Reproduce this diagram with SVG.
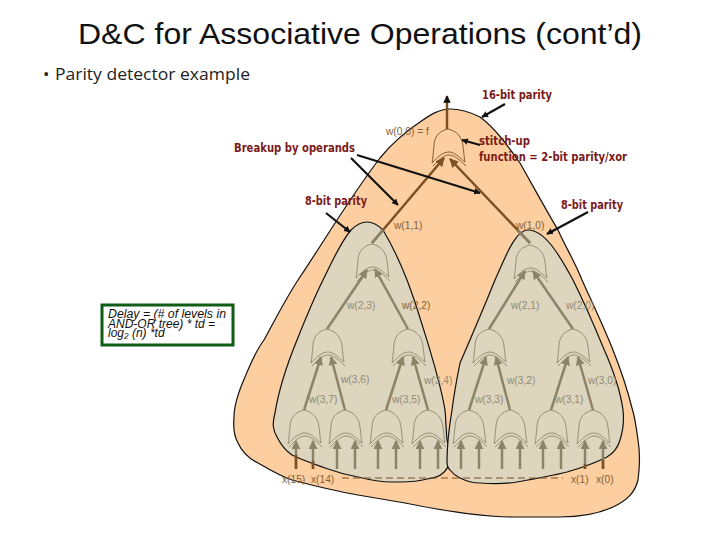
<svg xmlns="http://www.w3.org/2000/svg" width="720" height="540" viewBox="0 0 720 540">
<style>
.title{font:29px "Liberation Sans",Arial,sans-serif;fill:#111}
.sub{font:17px "Open Sans","Noto Sans",sans-serif;fill:#222}
.red{font:bold 12px "DejaVu Sans",sans-serif;fill:#7a1a1a}
.w{font:10.2px "Liberation Sans",Arial,sans-serif;fill:#8f8b76}
.b{fill:#7f6238}
.d{font:italic 12px "Liberation Sans",Arial,sans-serif;fill:#111}
.blob{stroke:#111;stroke-width:1.2}
.gate{fill:none;stroke-width:.9}
.g1{stroke:#8f8870}
.g2{stroke:#7d4f22}
.a1{stroke:#8c8469;stroke-width:2.5;fill:none;marker-end:url(#ha1)}
.a2{stroke:#7d4f22;stroke-width:2.5;fill:none;marker-end:url(#ha2)}
.k{stroke:#111;stroke-width:2.2;fill:none;marker-end:url(#hk)}
</style>
<defs>
<marker id="ha1" viewBox="0 0 10 10" refX="9" refY="5" markerWidth="3.6" markerHeight="3.6" orient="auto"><path d="M0 0L10 5L0 10Z" fill="#8c8469"/></marker>
<marker id="ha2" viewBox="0 0 10 10" refX="9" refY="5" markerWidth="3.6" markerHeight="3.6" orient="auto"><path d="M0 0L10 5L0 10Z" fill="#7d4f22"/></marker>
<marker id="hk" viewBox="0 0 10 10" refX="9" refY="5" markerWidth="3" markerHeight="3" orient="auto"><path d="M0 0L10 5L0 10Z" fill="#111"/></marker>
<g id="gate"><path d="M0 0C-9 2-14 8-14 17C-15 24-15 30-16 34M0 0C9 2 14 8 15 17C16 24 16 29 17 33M-16 34C-9 27-5 23 1 23C6 23 10 27 17 33M-15 37C-8 30-4 26 1 26C6 26 11 30 18 37"/></g>
</defs>
<rect width="720" height="540" fill="#fff"/>
<g id="outer"><path class="blob" fill="#fdcfa0" d="M450 109C439 109 430 115 420 122C405 132 393 142 380 158C350 197 325 240 298 280C285 300 275 320 264 340C255 352 250 365 245 377C238 393 234 405 234 417C233 428 234 436 238 443C242 452 250 459 258 463C270 470 280 476 292 480C315 486 335 491 358 495L405 503C440 510 480 517 513 517L560 517C580 517 600 513 613 507C628 500 635 492 638 480C640 465 640 452 638 440C636 425 635 417 632 408C620 360 600 320 582 280C575 262 566 248 558 230C545 208 533 186 520 163C508 146 495 128 480 117C470 112 460 109 450 109Z"/></g>
<g id="tree-left"><path class="blob" fill="#ddd5bd" d="M367 222C360 222 355 226 351 230C340 243 332 262 323 280C313 300 305 320 297 340C288 362 279 388 275 413C272 424 273 430 277 437C281 445 286 451 292 455C302 460 314 464 325 468C336 472 347 475 358 477C370 480 380 482 392 482H400C410 482 420 481 427 479C435 478 440 476 443 473C447 470 448 467 449 463C451 455 449 448 447 440C446 430 446 420 445 410C440 380 430 350 420 318C416 305 412 293 407 280C400 262 392 245 383 230C378 225 373 222 367 222Z"/></g>
<g id="tree-right"><path class="blob" fill="#ddd5bd" d="M528 230C515 230 505 258 495 280C482 312 470 340 460 363C457 378 454 394 452 410C449 428 447 448 447 462C447 466 448 468 450 470C453 474 456 476 460 478C466 481 473 483 480 483C492 484 505 484 517 482C534 479 551 476 567 472C581 468 595 463 607 457C614 453 618 447 620 440C624 428 624 419 623 410C620 388 612 367 603 347C594 325 584 302 573 280C560 256 545 230 528 230Z"/></g>
<g id="connectors">
<path class="a2" d="M447 129V96" style="marker-end:url(#hk)"/>
<path class="a2" d="M372 243L444 158"/>
<path class="a2" d="M530 243L450 159"/>
<path d="M372 243L383 230" stroke="#8c8469" stroke-width="2.5" fill="none"/>
<path d="M530 243L517 230" stroke="#8c8469" stroke-width="2.5" fill="none"/>
<path class="a1" d="M327 329L367 270"/>
<path class="a1" d="M408 329L375 269"/>
<path class="a1" d="M489 329L525 271"/>
<path class="a1" d="M573 329L533 271"/>
<path class="a1" d="M304 410L321 357"/>
<path class="a1" d="M345 410L331 357"/>
<path class="a1" d="M386 410L403 357"/>
<path class="a1" d="M428 410L413 357"/>
<path class="a1" d="M469 410L486 357"/>
<path class="a1" d="M510 410L496 357"/>
<path class="a1" d="M551 410L568 357"/>
<path class="a1" d="M593 410L578 357"/>
<path class="a1" d="M296 469V441"/><path class="a1" d="M313 469V441"/><path class="a1" d="M337 469V441"/><path class="a1" d="M355 469V441"/><path class="a1" d="M378 469V441"/><path class="a1" d="M396 469V441"/><path class="a1" d="M420 469V441"/><path class="a1" d="M438 469V441"/>
<path class="a1" d="M461 469V441"/><path class="a1" d="M479 469V441"/><path class="a1" d="M502 469V441"/><path class="a1" d="M520 469V441"/><path class="a1" d="M543 469V441"/><path class="a1" d="M561 469V441"/><path class="a1" d="M585 469V441"/><path class="a1" d="M603 469V441"/>
<path d="M296 469V455M313 469V461M585 469V464M603 469V460" stroke="#7d4f22" stroke-width="2.5" fill="none"/>
<path d="M342 478H563" stroke="#7d4f22" stroke-width="1" stroke-dasharray="7 4" fill="none"/>
<path class="k" d="M505 104L482 117"/>
<path class="k" d="M480 145L462 140"/>
<path class="k" d="M351 158L398 205"/>
<path class="k" d="M357 155L480 193"/>
<path class="k" d="M326 213L350 232"/>
<path class="k" d="M588 212L547 234"/>
</g>
<g id="gate-top" class="gate g2"><use href="#gate" x="448" y="129"/></g>
<g id="gates-l1" class="gate g1"><use href="#gate" x="372" y="244"/><use href="#gate" x="530" y="245"/></g>
<g id="gates-l2" class="gate g1"><use href="#gate" x="327" y="329"/><use href="#gate" x="408" y="329"/><use href="#gate" x="489" y="329"/><use href="#gate" x="573" y="329"/></g>
<g id="gates-l3" class="gate g1"><use href="#gate" x="304" y="410"/><use href="#gate" x="345" y="410"/><use href="#gate" x="386" y="410"/><use href="#gate" x="428" y="410"/><use href="#gate" x="469" y="410"/><use href="#gate" x="510" y="410"/><use href="#gate" x="551" y="410"/><use href="#gate" x="593" y="410"/></g>
<g id="texts">
<text class="title" x="78" y="44" textLength="564" lengthAdjust="spacingAndGlyphs">D&amp;C for Associative Operations (cont’d)</text>
<text class="sub" x="43" y="80">•</text>
<text class="sub" x="55" y="80" textLength="195" lengthAdjust="spacingAndGlyphs">Parity detector example</text>
<text class="red" x="482" y="99" textLength="70" lengthAdjust="spacingAndGlyphs">16-bit parity</text>
<text class="red" x="234" y="152" textLength="121" lengthAdjust="spacingAndGlyphs">Breakup by operands</text>
<text class="red" x="479" y="145" textLength="51" lengthAdjust="spacingAndGlyphs">stitch-up</text>
<text class="red" x="479" y="161" textLength="148" lengthAdjust="spacingAndGlyphs">function = 2-bit parity/xor</text>
<text class="red" x="305" y="205" textLength="62" lengthAdjust="spacingAndGlyphs">8-bit parity</text>
<text class="red" x="561" y="209" textLength="62" lengthAdjust="spacingAndGlyphs">8-bit parity</text>
<text class="w b" x="386" y="135">w(0,0) = f</text>
<text class="w b" x="394" y="229">w(1,1)</text>
<text class="w b" x="516" y="229">w(1,0)</text>
<text class="w" x="347" y="309">w(2,3)</text>
<text class="w b" x="402" y="309">w(2,2)</text>
<text class="w" x="511" y="309">w(2,1)</text>
<text class="w" x="566" y="309">w(2,0)</text>
<text class="w" x="341" y="383">w(3,6)</text>
<text class="w" x="424" y="384">w(3,4)</text>
<text class="w" x="507" y="384">w(3,2)</text>
<text class="w" x="588" y="384">w(3,0)</text>
<text class="w" x="309" y="403">w(3,7)</text>
<text class="w" x="392" y="403">w(3,5)</text>
<text class="w" x="475" y="403">w(3,3)</text>
<text class="w" x="555" y="403">w(3,1)</text>
<text class="w b" x="282" y="483">x(15)</text>
<text class="w b" x="311" y="483">x(14)</text>
<text class="w b" x="571" y="483">x(1)</text>
<text class="w b" x="596" y="483">x(0)</text>
</g>
<g id="delay-box">
<rect x="102" y="305" width="131" height="40" fill="#fff" stroke="#0f5c14" stroke-width="3"/>
<text class="d" x="108" y="318" textLength="118" lengthAdjust="spacingAndGlyphs">Delay = (# of levels in</text>
<text class="d" x="108" y="327.500">AND-OR tree) * td =</text>
<text class="d" x="108" y="337">log₂ (n) *td</text>
</g>
</svg>
